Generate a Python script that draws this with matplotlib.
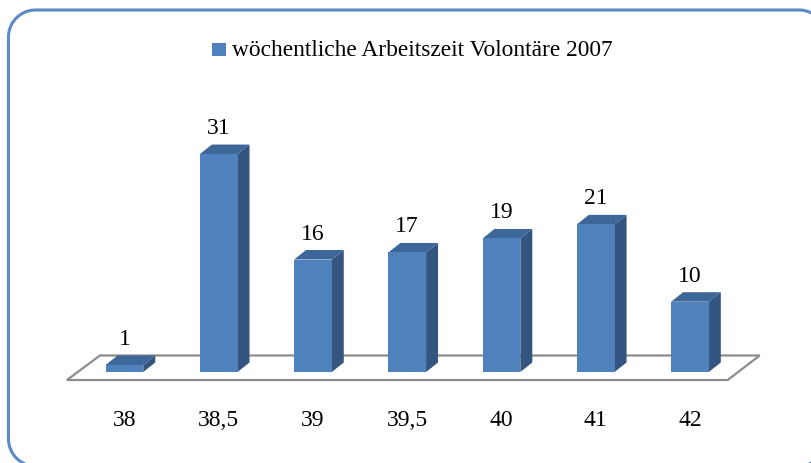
import numpy as np
import matplotlib
matplotlib.use("Agg")
from matplotlib import pyplot as plt
from matplotlib.patches import Polygon, Rectangle
from matplotlib.path import Path
from matplotlib.patches import PathPatch

# data
categories = ["38", "38,5", "39", "39,5", "40", "41", "42"]
values = [1, 31, 16, 17, 19, 21, 10]
series_name = "wöchentliche Arbeitszeit Volontäre 2007"

front_col = "#4F81BD"
side_col = "#34557F"
top_col = "#3D6699"
font = "Liberation Serif"

W, H = 812, 463
fig = plt.figure(figsize=(W / 100, H / 100), dpi=100)

# background axes in pixel units (y up) for frame + legend
bg = fig.add_axes([0, 0, 1, 1])
bg.set_xlim(0, W)
bg.set_ylim(0, H)
bg.axis("off")


def rounded_rect(x0, y0, x1, y1, r):
    pts = []
    for cx, cy, a0 in [(x1 - r, y1 - r, 0), (x0 + r, y1 - r, 90),
                       (x0 + r, y0 + r, 180), (x1 - r, y0 + r, 270)]:
        t = np.radians(np.linspace(a0, a0 + 90, 20))
        pts += list(zip(cx + r * np.cos(t), cy + r * np.sin(t)))
    pts.append(pts[0])
    return Path(pts)


bg.add_patch(PathPatch(rounded_rect(8.5, H - 466, 826, H - 10, 27),
                       facecolor="none", edgecolor="#5B8AC6", linewidth=2.2))
bg.add_patch(Rectangle((212.5, H - 56), 14, 13, facecolor=front_col, edgecolor="none"))
bg.text(232, H - 56, series_name, ha="left", va="baseline", fontsize=16.8, family=font)

ax = fig.add_axes([0.072, 0.1358, 0.859, 0.6484])
ax.set_xlim(-0.7, 6.7)
ax.set_ylim(-4, 38.7)
ax.axis("off")

# floor
floor = Polygon([(-0.61, -1.14), (6.40, -1.14), (6.74, 2.35), (-0.26, 2.35)],
                closed=True, facecolor="white", edgecolor="#8C8C8C", linewidth=1.6,
                zorder=1, clip_on=False)
ax.add_patch(floor)

x = np.arange(len(values))
w = 0.4
dx, dy = 0.127, 1.35

ax.bar(x, values, width=w, color=front_col, zorder=3)
for xi, v in zip(x, values):
    r = xi + w / 2
    l = xi - w / 2
    ax.add_patch(Polygon([(r, 0), (r + dx, dy), (r + dx, v + dy), (r, v)],
                         closed=True, facecolor=side_col, edgecolor="none", zorder=2))
    ax.add_patch(Polygon([(l, v), (l + dx, v + dy), (r + dx, v + dy), (r, v)],
                         closed=True, facecolor=top_col, edgecolor="none", zorder=2))
    ax.annotate(str(v), (xi, v), xytext=(0, 14.4), textcoords="offset points",
                ha="center", va="baseline", fontsize=17, family=font)

for xi, lbl in zip(x, categories):
    ax.text(xi, -7.68, lbl, ha="center", va="baseline", fontsize=17, family=font,
            clip_on=False)

fig.savefig("out.png", dpi=100)
